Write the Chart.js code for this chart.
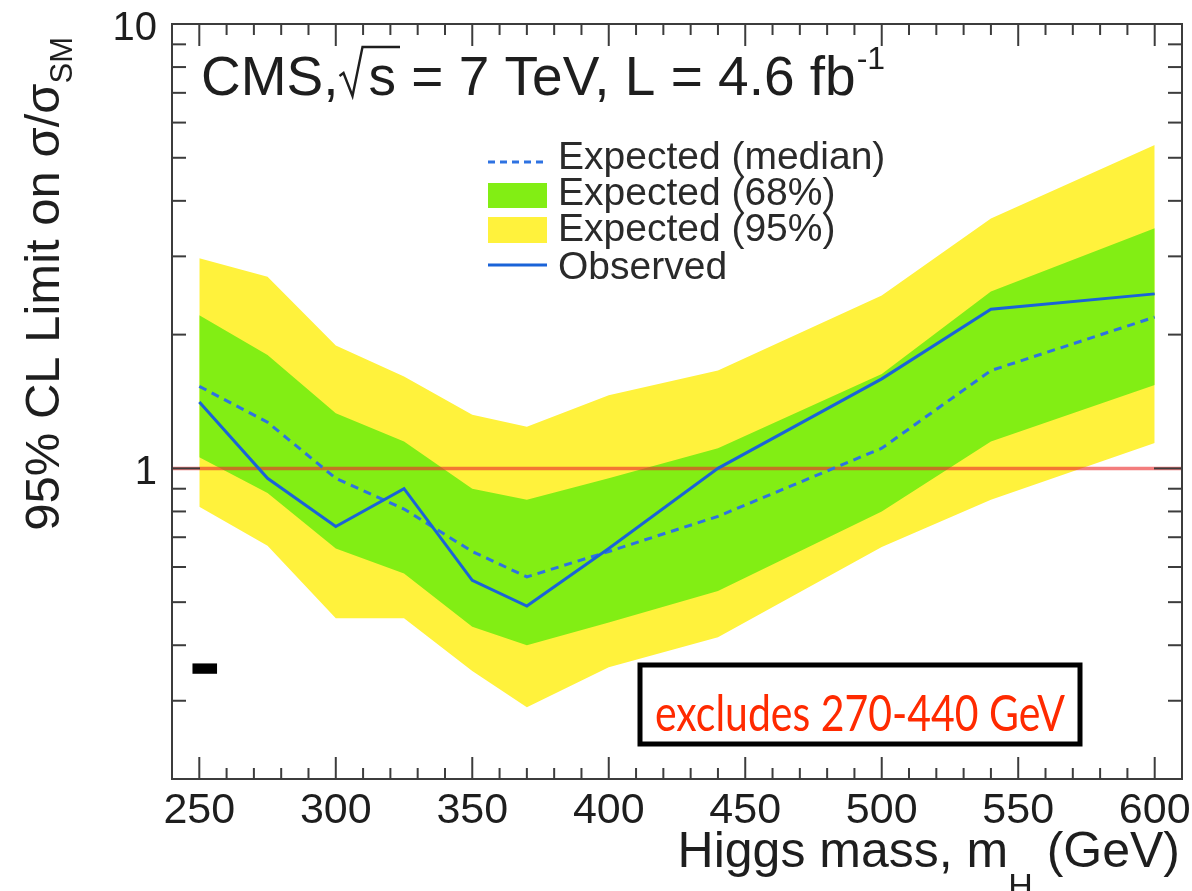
<!DOCTYPE html>
<html>
<head>
<meta charset="utf-8">
<title>CMS Higgs exclusion limit</title>
<script src="https://cdn.jsdelivr.net/npm/chart.js@4.4.0/dist/chart.umd.min.js"></script>
<style>
  html, body { margin: 0; padding: 0; background: #fff; }
</style>
</head>
<body>
<canvas id="limit" width="1192" height="891"></canvas>
<script>
// Higgs mass points (GeV)
const masses = [250, 275, 300, 325, 350, 370, 400, 440, 500, 540, 600];

// 95% CL upper limits on sigma/sigma_SM
const observed  = [1.41, 0.95, 0.74, 0.90, 0.56, 0.49, 0.66, 1.00, 1.59, 2.28, 2.47];
const expMedian = [1.53, 1.27, 0.95, 0.81, 0.65, 0.57, 0.65, 0.78, 1.11, 1.66, 2.19];
const band68Hi  = [2.21, 1.80, 1.33, 1.15, 0.90, 0.85, 0.95, 1.11, 1.63, 2.50, 3.47];
const band68Lo  = [1.06, 0.88, 0.66, 0.58, 0.44, 0.40, 0.45, 0.53, 0.80, 1.15, 1.54];
const band95Hi  = [2.97, 2.70, 1.89, 1.61, 1.32, 1.24, 1.46, 1.66, 2.45, 3.65, 5.34];
const band95Lo  = [0.82, 0.67, 0.46, 0.46, 0.35, 0.29, 0.357, 0.417, 0.665, 0.85, 1.14];

// SM reference line
const smLevel = 1;

// axis ticks
const xTicks = [250, 300, 350, 400, 450, 500, 550, 600];
const xMinor = [240, 260, 270, 280, 290, 310, 320, 330, 340, 360, 370, 380, 390, 410, 420, 430, 440,
                460, 470, 480, 490, 510, 520, 530, 540, 560, 570, 580, 590, 610];
const yTicks = [1, 10];
const yMinor = [0.2, 0.3, 0.4, 0.5, 0.6, 0.7, 0.8, 0.9, 2, 3, 4, 5, 6, 7, 8, 9];

const YELLOW = 'rgb(255,242,60)';
const GREEN = 'rgb(130,238,20)';
const BLUE = '#1a63d8';
const BLUE_DASH = '#2e72e2';
const SM_RED = 'rgba(236,45,45,0.62)';
const INK = '#1e1e1e';

const pts = arr => masses.map((m, i) => ({ x: m, y: arr[i] }));

// ROOT-style frame: box, inward ticks on all four sides, labels, titles, legend
const rootFrame = {
  id: 'rootFrame',
  afterDatasetsDraw(chart) {
    const { ctx, chartArea: a, scales: { x, y } } = chart;
    ctx.save();

    const seg = (x1, y1, x2, y2) => { ctx.beginPath(); ctx.moveTo(x1, y1); ctx.lineTo(x2, y2); ctx.stroke(); };

    ctx.strokeStyle = '#3c3c3c';
    ctx.lineWidth = 2;
    ctx.strokeRect(a.left, a.top, a.right - a.left, a.bottom - a.top);

    xTicks.forEach(v => { const p = x.getPixelForValue(v); seg(p, a.bottom, p, a.bottom - 22); seg(p, a.top, p, a.top + 22); });
    xMinor.forEach(v => { const p = x.getPixelForValue(v); seg(p, a.bottom, p, a.bottom - 11); seg(p, a.top, p, a.top + 11); });
    yTicks.forEach(v => { const p = y.getPixelForValue(v); seg(a.left, p, a.left + 28, p); seg(a.right, p, a.right - 28, p); });
    yMinor.forEach(v => { const p = y.getPixelForValue(v); seg(a.left, p, a.left + 14, p); seg(a.right, p, a.right - 14, p); });

    // tick labels
    ctx.fillStyle = INK;
    ctx.font = '43px "Liberation Sans", Arial, sans-serif';
    ctx.textAlign = 'center';
    ctx.textBaseline = 'alphabetic';
    xTicks.forEach(v => ctx.fillText(String(v), x.getPixelForValue(v), 823));
    ctx.font = '40px "Liberation Sans", Arial, sans-serif';
    ctx.textAlign = 'right';
    ctx.textBaseline = 'middle';
    yTicks.forEach(v => ctx.fillText(String(v), a.left - 15, y.getPixelForValue(v) + 5));

    // x title, right aligned to the axis end
    ctx.textBaseline = 'alphabetic';
    ctx.textAlign = 'left';
    const big = '50px "Liberation Sans", Arial, sans-serif';
    const sub = '34px "Liberation Sans", Arial, sans-serif';
    ctx.font = big;
    const t1 = 'Higgs mass, m', t3 = ' (GeV)';
    const w1 = ctx.measureText(t1).width, w3 = ctx.measureText(t3).width;
    ctx.font = sub;
    const w2 = ctx.measureText('H').width;
    let tx = 1180 - (w1 + w2 + w3);
    ctx.font = big; ctx.fillText(t1, tx, 867); tx += w1;
    ctx.font = sub; ctx.fillText('H', tx, 897); tx += w2;
    ctx.font = big; ctx.fillText(t3, tx, 867);

    // y title, rotated and ending near the top of the axis
    ctx.save();
    ctx.translate(59, 0);
    ctx.rotate(-Math.PI / 2);
    const ybig = '49px "Liberation Sans", Arial, sans-serif';
    const ysub = '31px "Liberation Sans", Arial, sans-serif';
    ctx.font = ybig;
    const yt = '95% CL Limit on σ/σ';
    const yw = ctx.measureText(yt).width;
    ctx.font = ysub;
    const ysw = ctx.measureText('SM').width;
    let ty = -37 - (yw + ysw);
    ctx.font = ybig; ctx.fillText(yt, ty, 0);
    ctx.font = ysub; ctx.fillText('SM', ty + yw, 13);
    ctx.restore();

    // header: CMS, sqrt(s) = 7 TeV, L = 4.6 fb^-1
    const hf = '55px "Liberation Sans", Arial, sans-serif';
    ctx.font = hf;
    let hx = 201;
    const hb = 95;
    ctx.fillText('CMS,', hx, hb);
    hx += ctx.measureText('CMS,').width;
    const sW = ctx.measureText('s').width;
    // radical sign with overbar
    ctx.strokeStyle = INK;
    ctx.lineWidth = 2.4;
    ctx.beginPath();
    ctx.moveTo(hx + 1, hb - 19);
    ctx.lineTo(hx + 5, hb - 22);
    ctx.lineTo(hx + 14, hb + 1);
    ctx.lineTo(hx + 24, hb - 48);
    ctx.lineTo(hx + 24 + sW + 10, hb - 48);
    ctx.stroke();
    hx += 30;
    ctx.fillText('s', hx, hb);
    hx += sW;
    const rest = ' = 7 TeV, L = 4.6 fb';
    ctx.fillText(rest, hx, hb);
    hx += ctx.measureText(rest).width;
    ctx.font = '32px "Liberation Sans", Arial, sans-serif';
    ctx.fillText('-1', hx + 1, hb - 26);

    // legend
    const lx0 = 488, lx1 = 547, tx0 = 558;
    ctx.lineWidth = 3;
    ctx.strokeStyle = BLUE_DASH;
    ctx.setLineDash([7, 5]);
    seg(lx0, 162, lx1, 162);
    ctx.setLineDash([]);
    ctx.fillStyle = GREEN; ctx.fillRect(lx0, 183, lx1 - lx0, 25);
    ctx.fillStyle = YELLOW; ctx.fillRect(lx0, 217, lx1 - lx0, 26);
    ctx.strokeStyle = BLUE;
    seg(lx0, 265, lx1, 265);
    ctx.fillStyle = '#2a2a2a';
    ctx.font = '39px "Liberation Sans", Arial, sans-serif';
    ctx.fillText('Expected (median)', tx0, 169);
    ctx.fillText('Expected (68%)', tx0, 205);
    ctx.fillText('Expected (95%)', tx0, 241);
    ctx.fillText('Observed', tx0, 279);

    // small black dash near the lower left
    const bx0 = x.getPixelForValue(247.5), bx1 = x.getPixelForValue(256.5);
    const by0 = y.getPixelForValue(0.364), by1 = y.getPixelForValue(0.345);
    ctx.fillStyle = '#000';
    ctx.fillRect(bx0, by0, bx1 - bx0, by1 - by0);

    // exclusion note, lettering fitted to the box width
    ctx.fillStyle = '#fff';
    ctx.fillRect(638, 663, 444, 83);
    ctx.strokeStyle = '#000';
    ctx.lineWidth = 5;
    ctx.strokeRect(640, 665, 440, 79);
    ctx.fillStyle = '#ff2a00';
    ctx.font = '50px Lato, "Open Sans", sans-serif';
    const note = 'excludes 270-440 GeV';
    const nw = ctx.measureText(note).width;
    const sx = 410 / nw;
    ctx.save();
    ctx.translate(655, 731);
    ctx.scale(sx, 1);
    ctx.textAlign = 'left';
    ctx.fillText(note, 0, 0);
    ctx.restore();

    ctx.restore();
  }
};

new Chart(document.getElementById('limit'), {
  type: 'line',
  data: {
    datasets: [
      { label: 'Expected (95%)', data: pts(band95Hi), fill: '+1', backgroundColor: YELLOW,
        borderWidth: 0, pointRadius: 0, order: 10 },
      { label: 'band95Lo', data: pts(band95Lo), fill: false, borderWidth: 0, pointRadius: 0, order: 9 },
      { label: 'Expected (68%)', data: pts(band68Hi), fill: '+1', backgroundColor: GREEN,
        borderWidth: 0, pointRadius: 0, order: 8 },
      { label: 'band68Lo', data: pts(band68Lo), fill: false, borderWidth: 0, pointRadius: 0, order: 7 },
      { label: 'SM', data: [{ x: 240, y: smLevel }, { x: 610, y: smLevel }], borderColor: SM_RED,
        borderWidth: 3.5, pointRadius: 0, fill: false, order: 3 },
      { label: 'Expected (median)', data: pts(expMedian), borderColor: BLUE_DASH, borderWidth: 3,
        borderDash: [8, 6], pointRadius: 0, fill: false, order: 2 },
      { label: 'Observed', data: pts(observed), borderColor: BLUE, borderWidth: 3,
        pointRadius: 0, fill: false, order: 1 }
    ]
  },
  options: {
    responsive: false,
    devicePixelRatio: 1,
    animation: false,
    layout: { padding: { left: 172, top: 24, right: 10, bottom: 112 } },
    scales: {
      x: { type: 'linear', min: 240, max: 610, display: false },
      y: { type: 'logarithmic', min: 0.2, max: 10, display: false }
    },
    plugins: {
      legend: { display: false },
      tooltip: { enabled: false }
    },
    elements: { line: { tension: 0 } }
  },
  plugins: [rootFrame]
});
</script>
</body>
</html>
